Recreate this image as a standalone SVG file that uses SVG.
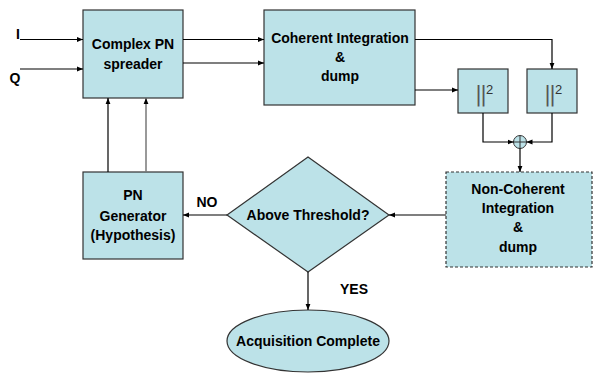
<svg xmlns="http://www.w3.org/2000/svg" width="594" height="375" viewBox="0 0 594 375">
<style>
.box{fill:#BCE2E8;stroke:#333;stroke-width:1.2}
.t{font-family:"Liberation Sans",Arial,sans-serif;font-weight:bold;font-size:14px;fill:#000;text-anchor:middle}
.c{fill:none;stroke:#000;stroke-width:1.2}
.g{fill:none;stroke:#777;stroke-width:1.5}
.bar{font-family:"DejaVu Sans",sans-serif;font-weight:normal;font-size:21px;fill:#555;letter-spacing:-2px}
.sup{font-family:"Liberation Sans",Arial,sans-serif;font-size:13px;fill:#333}
</style>
<defs>
<marker id="a" viewBox="0 0 10 10" refX="10" refY="5" markerWidth="6" markerHeight="6" orient="auto" markerUnits="userSpaceOnUse">
<path d="M0,1 L10,5 L0,9 z" fill="#000"/>
</marker>
</defs>
<rect width="594" height="375" fill="#fff"/>
<g id="inputs">
<text class="t" x="18" y="39">I</text>
<text class="t" x="15" y="83">Q</text>
</g>
<g id="spreader">
<rect class="box" x="83" y="10" width="100" height="88"/>
<text class="t" x="133" y="49">Complex PN</text>
<text class="t" x="133" y="69">spreader</text>
</g>
<g id="coherent">
<rect class="box" x="264" y="10" width="151" height="95"/>
<text class="t" x="340" y="43">Coherent Integration</text>
<text class="t" x="340" y="62">&amp;</text>
<text class="t" x="340" y="81">dump</text>
</g>
<g id="sq1">
<rect class="box" x="458" y="69" width="50" height="44"/>
<text class="bar" x="475" y="101">||</text>
<text class="sup" x="486" y="94">2</text>
</g>
<g id="sq2">
<rect class="box" x="527" y="69" width="50" height="44"/>
<text class="bar" x="544" y="101">||</text>
<text class="sup" x="555" y="94">2</text>
</g>
<g id="sum">
<circle cx="520" cy="142" r="6.5" fill="#BCE2E8" stroke="#333" stroke-width="1"/>
<path d="M513.5,142 H526.5 M520,135.5 V148.5" stroke="#333" stroke-width="1"/>
</g>
<g id="noncoherent">
<rect class="box" x="446" y="172" width="146" height="95" style="stroke-dasharray:3,2"/>
<text class="t" x="518" y="194">Non-Coherent</text>
<text class="t" x="518" y="213">Integration</text>
<text class="t" x="518" y="232">&amp;</text>
<text class="t" x="518" y="252">dump</text>
</g>
<g id="threshold">
<path class="box" d="M308,157 L389,215 L308,272 L227,215 Z"/>
<text class="t" x="308" y="220">Above Threshold?</text>
</g>
<g id="pngen">
<rect class="box" x="83" y="172" width="100" height="87"/>
<text class="t" x="133" y="200">PN</text>
<text class="t" x="133" y="221">Generator</text>
<text class="t" x="133" y="240">(Hypothesis)</text>
</g>
<g id="complete">
<ellipse class="box" cx="308" cy="341" rx="81" ry="31"/>
<text class="t" x="308" y="346">Acquisition Complete</text>
</g>
<g id="connectors">
<path class="c" d="M20,39.5 H83" marker-end="url(#a)"/>
<path class="c" d="M20,69 H83" marker-end="url(#a)"/>
<path class="c" d="M183,39.5 H264" marker-end="url(#a)"/>
<path class="c" d="M183,63 H264" marker-end="url(#a)"/>
<path class="c" d="M415,39.5 H552 V69" marker-end="url(#a)"/>
<path class="c" d="M415,90 H458" marker-end="url(#a)"/>
<path class="c" d="M483,113 V142 H513.5" marker-end="url(#a)"/>
<path class="c" d="M552,113 V142 H526.5" marker-end="url(#a)"/>
<path class="c" d="M520,148.5 V172" marker-end="url(#a)"/>
<path class="c" d="M446,215 H389" marker-end="url(#a)"/>
<path class="c" d="M227,215 H183" marker-end="url(#a)"/>
<path class="c" d="M308,272 V310" marker-end="url(#a)"/>
<path class="c" d="M108,172 V98" marker-end="url(#a)"/>
<path class="g" d="M146,172 V98" marker-end="url(#a)"/>
<text class="t" x="207" y="207">NO</text>
<text class="t" x="354" y="294">YES</text>
</g>
</svg>
